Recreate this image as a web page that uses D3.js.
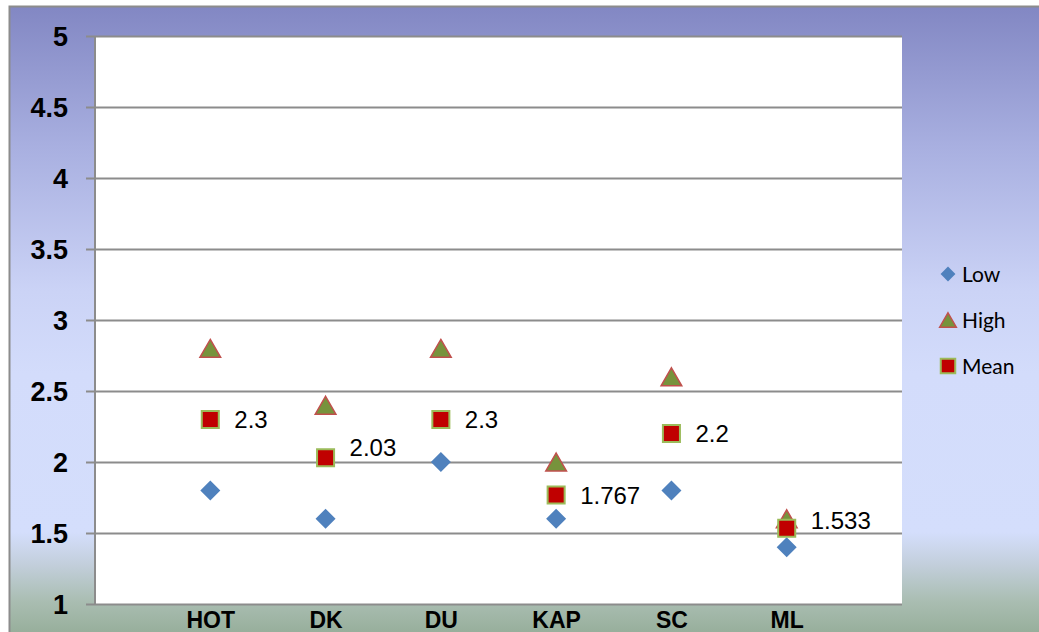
<!DOCTYPE html>
<html>
<head>
<meta charset="utf-8">
<script src="https://cdn.jsdelivr.net/npm/d3@7"></script>
<style>
  html, body { margin: 0; padding: 0; background: #fff; overflow: hidden; }
  svg { display: block; }
</style>
</head>
<body>
<script>
'use strict';

// Data
const categories = ['HOT', 'DK', 'DU', 'KAP', 'SC', 'ML'];
const lowValues = [1.8, 1.6, 2.0, 1.6, 1.8, 1.4];
const highValues = [2.8, 2.4, 2.8, 2.0, 2.6, 1.6];
const meanValues = [2.3, 2.03, 2.3, 1.767, 2.2, 1.533];
const meanLabels = ['2.3', '2.03', '2.3', '1.767', '2.2', '1.533'];
const yTicks = [1, 1.5, 2, 2.5, 3, 3.5, 4, 4.5, 5];
const legendNames = ['Low', 'High', 'Mean'];

const width = 1039, height = 632;
const plot = { left: 95, top: 36, right: 902, bottom: 604 };

const svg = d3.select('body').append('svg')
  .attr('width', width)
  .attr('height', height);

// Background gradient
const grad = svg.append('defs').append('linearGradient')
  .attr('id', 'bg')
  .attr('gradientUnits', 'userSpaceOnUse')
  .attr('x1', 0).attr('y1', 6).attr('x2', 0).attr('y2', 640);
[[0, '#8287c3'], [0.22, '#a8afe0'], [0.45, '#cbd3f6'], [0.58, '#d3dcfb'],
 [0.83, '#d4defc'], [0.88, '#c3cfdc'], [0.94, '#a9bdb1'], [1, '#93ab96']]
  .forEach(([o, c]) => grad.append('stop').attr('offset', o).attr('stop-color', c));

svg.append('rect')
  .attr('x', 9.5).attr('y', 6.5)
  .attr('width', width + 20).attr('height', height + 20)
  .attr('fill', 'url(#bg)')
  .attr('stroke', '#8c8c8c')
  .attr('stroke-width', 2);

// Scales
const x = d3.scalePoint()
  .domain(categories)
  .range([plot.left, plot.right])
  .padding(1);

const y = d3.scaleLinear()
  .domain([1, 5])
  .range([plot.bottom, plot.top]);

// Plot area
svg.append('rect')
  .attr('x', plot.left).attr('y', plot.top)
  .attr('width', plot.right - plot.left)
  .attr('height', plot.bottom - plot.top)
  .attr('fill', '#fff');

// Gridlines + ticks
const yAxis = d3.axisLeft(y)
  .tickValues(yTicks)
  .tickSize(-(plot.right - plot.left))
  .tickFormat(d3.format('~g'));

const gy = svg.append('g')
  .attr('transform', `translate(${plot.left},0)`)
  .call(yAxis);
gy.select('.domain').remove();
gy.selectAll('.tick line')
  .attr('x1', -9)
  .attr('stroke', '#8c8c8c')
  .attr('stroke-width', 2);
gy.selectAll('.tick text')
  .attr('x', -27)
  .attr('dy', '0.36em')
  .attr('font-family', 'Arial, "Liberation Sans", sans-serif')
  .attr('font-size', 27)
  .attr('font-weight', 'bold')
  .attr('fill', '#000');

svg.append('line')
  .attr('x1', plot.left).attr('x2', plot.left)
  .attr('y1', plot.top).attr('y2', plot.bottom)
  .attr('stroke', '#8c8c8c')
  .attr('stroke-width', 2);

// X axis labels
const xAxis = d3.axisBottom(x).tickSize(0).tickPadding(0);
const gx = svg.append('g')
  .attr('transform', `translate(0,${plot.bottom})`)
  .call(xAxis);
gx.select('.domain').remove();
gx.selectAll('.tick text')
  .attr('y', 24)
  .attr('dy', 0)
  .attr('font-family', 'Arial, "Liberation Sans", sans-serif')
  .attr('font-size', 23)
  .attr('font-weight', 'bold')
  .attr('fill', '#000');

// triangle centred on its bounding box, like Excel's marker
const boxTriangle = {
  draw(context, size) {
    const w = Math.sqrt(size * 4 / Math.sqrt(3));
    const h = w * Math.sqrt(3) / 2;
    context.moveTo(0, -h / 2);
    context.lineTo(w / 2, h / 2);
    context.lineTo(-w / 2, h / 2);
    context.closePath();
  }
};

// Marker styles
const markers = {
  Low: { type: d3.symbolSquare, size: 200, rotate: 45, fill: '#4f81bd', stroke: 'none', sw: 0 },
  High: { type: boxTriangle, size: 185, rotate: 0, fill: '#77933c', stroke: '#c0504d', sw: 1.5 },
  Mean: { type: d3.symbolSquare, size: 290, rotate: 0, fill: '#c00000', stroke: '#9bbb59', sw: 2 }
};

const drawSeries = (name, values) => {
  const m = markers[name];
  svg.append('g').selectAll('path')
    .data(values)
    .join('path')
    .attr('d', d3.symbol().type(m.type).size(m.size))
    .attr('transform', (d, i) => `translate(${x(categories[i])},${y(d)}) rotate(${m.rotate})`)
    .attr('fill', m.fill)
    .attr('stroke', m.stroke)
    .attr('stroke-width', m.sw);
};

drawSeries('Low', lowValues);
drawSeries('High', highValues);
drawSeries('Mean', meanValues);

// Mean labels (a couple are nudged up, as in the original)
const labelShift = { DK: -10, ML: -8 };
svg.append('g').selectAll('text')
  .data(meanValues)
  .join('text')
  .attr('x', (d, i) => x(categories[i]) + 24)
  .attr('y', (d, i) => y(d) + (labelShift[categories[i]] || 0))
  .attr('dy', '0.36em')
  .attr('font-family', 'Arial, "Liberation Sans", sans-serif')
  .attr('font-size', 24)
  .attr('fill', '#000')
  .text((d, i) => meanLabels[i]);

// Legend
const legendSizes = { Low: 110, High: 120, Mean: 210 };
const legend = svg.append('g')
  .selectAll('g')
  .data(legendNames)
  .join('g')
  .attr('transform', (d, i) => `translate(948,${274 + i * 46})`);

legend.append('path')
  .attr('d', d => d3.symbol().type(markers[d].type).size(legendSizes[d])())
  .attr('transform', d => `rotate(${markers[d].rotate})`)
  .attr('fill', d => markers[d].fill)
  .attr('stroke', d => markers[d].stroke)
  .attr('stroke-width', d => markers[d].sw);

legend.append('text')
  .attr('x', 14)
  .attr('dy', '0.36em')
  .attr('font-family', 'Lato, "Open Sans", sans-serif')
  .attr('font-size', 21)
  .attr('fill', '#000')
  .text(d => d);
</script>
</body>
</html>
